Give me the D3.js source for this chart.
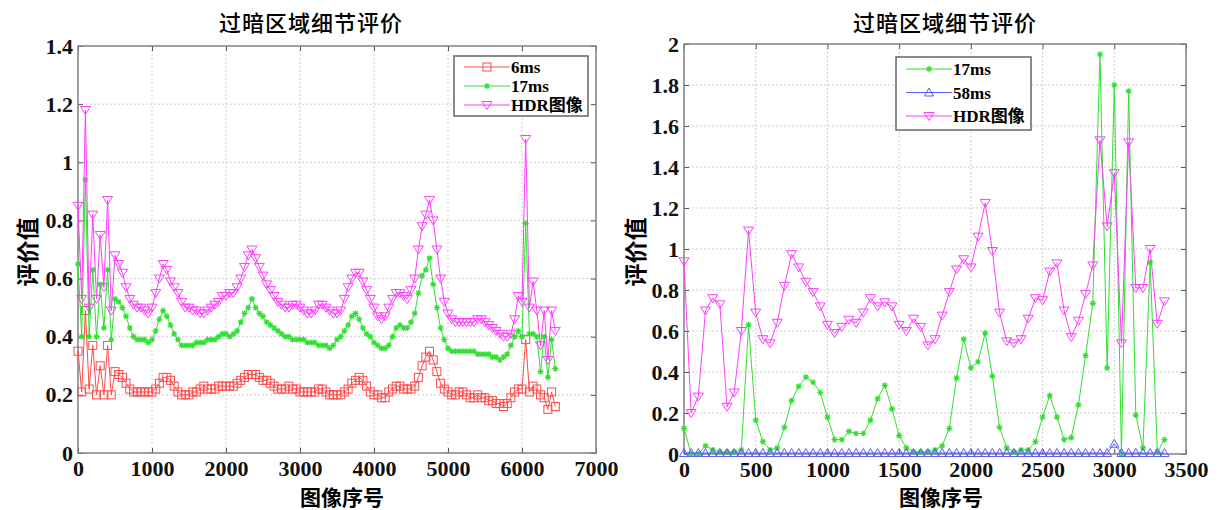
<!DOCTYPE html>
<html lang="zh">
<head>
<meta charset="utf-8"/>
<title>过暗区域细节评价</title>
<script src="https://d3js.org/d3.v7.min.js"></script>
<style>
	body { margin: 0; background: #fff; }
</style>
</head>
<body>
<script>
// ---- data ----
var titleText = "过暗区域细节评价";
var xLabel = "图像序号";
var yLabel = "评价值";

// left panel: one sample every 50 images, from 0
var leftStep = 50;
var left6ms = [
	0.35,0.21,0.49,0.22,0.37,0.20,0.30,0.20,0.37,0.20,
	0.28,0.27,0.26,0.24,0.22,0.21,0.21,0.21,0.21,0.21,
	0.21,0.22,0.24,0.26,0.26,0.25,0.23,0.21,0.20,0.20,
	0.20,0.21,0.21,0.22,0.23,0.22,0.22,0.22,0.23,0.23,
	0.23,0.23,0.23,0.24,0.25,0.26,0.27,0.27,0.27,0.26,
	0.25,0.25,0.24,0.23,0.22,0.22,0.22,0.23,0.22,0.22,
	0.21,0.21,0.21,0.21,0.21,0.22,0.22,0.21,0.20,0.20,
	0.20,0.20,0.21,0.22,0.24,0.25,0.26,0.25,0.23,0.21,
	0.20,0.20,0.19,0.19,0.21,0.22,0.23,0.23,0.22,0.22,
	0.22,0.23,0.26,0.30,0.33,0.35,0.32,0.28,0.24,0.22,
	0.21,0.20,0.20,0.21,0.21,0.20,0.19,0.19,0.20,0.19,
	0.19,0.18,0.18,0.17,0.17,0.16,0.17,0.19,0.21,0.22,
	0.22,0.39,0.21,0.23,0.22,0.20,0.19,0.15,0.21,0.16
];
var left17ms = [
	0.65,0.40,0.94,0.40,0.63,0.40,0.58,0.43,0.63,0.39,
	0.53,0.52,0.50,0.47,0.43,0.40,0.39,0.39,0.39,0.38,
	0.39,0.42,0.46,0.49,0.47,0.44,0.41,0.39,0.37,0.37,
	0.37,0.37,0.38,0.38,0.38,0.39,0.39,0.39,0.40,0.41,
	0.41,0.40,0.41,0.42,0.45,0.48,0.50,0.53,0.50,0.48,
	0.47,0.45,0.44,0.43,0.42,0.41,0.40,0.40,0.39,0.39,
	0.39,0.39,0.38,0.38,0.38,0.37,0.37,0.37,0.36,0.37,
	0.39,0.40,0.42,0.44,0.47,0.48,0.46,0.43,0.41,0.40,
	0.38,0.37,0.36,0.36,0.37,0.40,0.43,0.44,0.43,0.43,
	0.45,0.48,0.55,0.61,0.63,0.67,0.58,0.50,0.43,0.39,
	0.36,0.35,0.35,0.35,0.35,0.35,0.35,0.35,0.34,0.34,
	0.34,0.34,0.33,0.33,0.32,0.33,0.34,0.37,0.40,0.42,
	0.40,0.79,0.41,0.41,0.40,0.28,0.40,0.26,0.39,0.29
];
var leftHDR = [
	0.85,0.53,1.18,0.50,0.82,0.53,0.75,0.57,0.87,0.49,
	0.68,0.65,0.62,0.57,0.53,0.51,0.50,0.50,0.49,0.48,
	0.50,0.55,0.60,0.65,0.63,0.59,0.57,0.55,0.52,0.50,
	0.50,0.49,0.49,0.48,0.48,0.49,0.50,0.51,0.52,0.54,
	0.54,0.55,0.55,0.57,0.60,0.64,0.68,0.70,0.67,0.64,
	0.61,0.58,0.56,0.54,0.52,0.51,0.50,0.50,0.51,0.51,
	0.50,0.49,0.48,0.48,0.49,0.51,0.51,0.50,0.49,0.48,
	0.48,0.49,0.53,0.57,0.60,0.62,0.62,0.59,0.56,0.53,
	0.50,0.47,0.46,0.47,0.50,0.53,0.55,0.55,0.54,0.53,
	0.56,0.60,0.70,0.78,0.82,0.87,0.80,0.70,0.60,0.52,
	0.48,0.46,0.45,0.45,0.45,0.45,0.45,0.45,0.46,0.46,
	0.45,0.44,0.43,0.42,0.41,0.40,0.40,0.41,0.46,0.54,
	0.52,1.08,0.50,0.59,0.49,0.37,0.49,0.32,0.49,0.42
];

// right panel: one sample every 50 images, from 0
var rightStep = 50;
var right17ms = [
	0.125,0.00,0.00,0.04,0.02,0.01,0.01,0.01,0.02,0.63,
	0.165,0.06,0.02,0.03,0.13,0.26,0.33,0.375,0.35,0.30,
	0.18,0.07,0.07,0.11,0.10,0.10,0.165,0.27,0.335,0.22,
	0.09,0.03,0.01,0.01,0.01,0.02,0.04,0.125,0.37,0.56,
	0.42,0.45,0.59,0.38,0.13,0.03,0.01,0.02,0.02,0.06,
	0.18,0.285,0.18,0.07,0.08,0.24,0.48,0.735,1.95,0.42,
	1.80,0.00,1.77,0.19,0.03,0.935,0.01,0.07
];
var right58ms = [
	0.005,0.005,0.005,0.005,0.005,0.005,0.005,0.005,0.005,0.005,
	0.005,0.005,0.005,0.005,0.005,0.005,0.005,0.005,0.005,0.005,
	0.005,0.005,0.005,0.005,0.005,0.005,0.005,0.005,0.005,0.005,
	0.005,0.005,0.005,0.005,0.005,0.005,0.005,0.005,0.005,0.005,
	0.005,0.005,0.005,0.005,0.005,0.005,0.005,0.005,0.005,0.005,
	0.005,0.005,0.005,0.005,0.005,0.005,0.005,0.005,0.005,0.005,
	0.05,0.005,0.005,0.005,0.005,0.005,0.005,0.005
];
var rightHDR = [
	0.94,0.20,0.28,0.70,0.76,0.73,0.23,0.30,0.60,1.09,
	0.69,0.56,0.54,0.64,0.82,0.975,0.91,0.84,0.79,0.72,
	0.63,0.59,0.62,0.655,0.64,0.69,0.76,0.72,0.74,0.72,
	0.63,0.60,0.66,0.62,0.53,0.56,0.675,0.79,0.90,0.95,
	0.91,1.06,1.225,0.99,0.69,0.55,0.54,0.56,0.66,0.76,
	0.75,0.89,0.93,0.70,0.57,0.65,0.78,0.92,1.53,1.11,
	1.37,0.54,1.52,0.81,0.81,1.00,0.635,0.745
];

var leftTicksX = [0, 1000, 2000, 3000, 4000, 5000, 6000, 7000];
var leftTicksY = [0, 0.2, 0.4, 0.6, 0.8, 1, 1.2, 1.4];
var rightTicksX = [0, 500, 1000, 1500, 2000, 2500, 3000, 3500];
var rightTicksY = [0, 0.2, 0.4, 0.6, 0.8, 1, 1.2, 1.4, 1.6, 1.8, 2];

// ---- styles ----
var red = "#ff4a4a", green = "#30e030", magenta = "#ff3cff", blue = "#5a5aff";
var serif = "'Liberation Serif', 'Times New Roman', serif";
var cjk = "'Noto Sans CJK SC', sans-serif";

var svg = d3.select("body")
			.append("svg")
			.attr("width", 1218)
			.attr("height", 510);

// marker shapes drawn around (0,0)
function drawMarker(sel, type, color) {
	if (type == "square") {
		sel.append("rect").attr("x", -4).attr("y", -4).attr("width", 8).attr("height", 8)
			.attr("fill", "none").attr("stroke", color).attr("stroke-width", 1);
	} else if (type == "star") {
		sel.append("path").attr("d", "M-3,0H3M0,-3V3M-2.2,-2.2L2.2,2.2M-2.2,2.2L2.2,-2.2")
			.attr("fill", "none").attr("stroke", color).attr("stroke-width", 1.2);
	} else if (type == "down") {
		sel.append("path").attr("d", "M-5,-3.5L5,-3.5L0,4.5Z")
			.attr("fill", "none").attr("stroke", color).attr("stroke-width", 1);
	} else if (type == "up") {
		sel.append("path").attr("d", "M-4.5,3.5L4.5,3.5L0,-4.5Z")
			.attr("fill", "none").attr("stroke", color).attr("stroke-width", 1);
	}
}

function fmt(d) { return String(+d.toFixed(1)); }

function drawPanel(p) {
	var g = svg.append("g");
	var x = d3.scaleLinear().domain([p.xTicks[0], p.xTicks[p.xTicks.length - 1]]).range([p.left, p.right]);
	var y = d3.scaleLinear().domain([p.yTicks[0], p.yTicks[p.yTicks.length - 1]]).range([p.bottom, p.top]);

	// dotted grid
	g.selectAll(".gx").data(p.xTicks.slice(1, -1)).enter().append("line")
		.attr("x1", function(d) { return x(d); }).attr("x2", function(d) { return x(d); })
		.attr("y1", p.top).attr("y2", p.bottom)
		.attr("stroke", "#cfcfcf").attr("stroke-dasharray", "2,2");
	g.selectAll(".gy").data(p.yTicks.slice(1, -1)).enter().append("line")
		.attr("y1", function(d) { return y(d); }).attr("y2", function(d) { return y(d); })
		.attr("x1", p.left).attr("x2", p.right)
		.attr("stroke", "#cfcfcf").attr("stroke-dasharray", "2,2");

	// axes with inward ticks on all four sides
	var bottom = g.append("g").attr("transform", "translate(0," + p.bottom + ")")
		.call(d3.axisBottom(x).tickValues(p.xTicks).tickFormat(d3.format("d")).tickSizeInner(-5).tickSizeOuter(0).tickPadding(7));
	var left = g.append("g").attr("transform", "translate(" + p.left + ",0)")
		.call(d3.axisLeft(y).tickValues(p.yTicks).tickFormat(fmt).tickSizeInner(-5).tickSizeOuter(0).tickPadding(5));
	var top = g.append("g").attr("transform", "translate(0," + p.top + ")")
		.call(d3.axisTop(x).tickValues(p.xTicks).tickFormat("").tickSizeInner(-5).tickSizeOuter(0));
	var right = g.append("g").attr("transform", "translate(" + p.right + ",0)")
		.call(d3.axisRight(y).tickValues(p.yTicks).tickFormat("").tickSizeInner(-5).tickSizeOuter(0));
	[bottom, left, top, right].forEach(function(a) {
		a.select(".domain").remove();
		a.selectAll("line").attr("stroke", "#555");
		a.selectAll("text").attr("font-family", serif).attr("font-size", "22px")
			.attr("font-weight", "bold").attr("fill", "#111");
	});

	// box
	g.append("rect").attr("x", p.left).attr("y", p.top)
		.attr("width", p.right - p.left).attr("height", p.bottom - p.top)
		.attr("fill", "none").attr("stroke", "#808080").attr("stroke-width", 1.5);

	// series
	p.series.forEach(function(s) {
		var pts = s.values.map(function(v, i) { return [i * p.step, v]; });
		var line = d3.line().x(function(d) { return x(d[0]); }).y(function(d) { return y(d[1]); });
		g.append("path").datum(pts).attr("d", line)
			.attr("fill", "none").attr("stroke", s.color).attr("stroke-width", 1);
		g.selectAll(null).data(pts).enter().append("g")
			.attr("transform", function(d) { return "translate(" + x(d[0]) + "," + y(d[1]) + ")"; })
			.each(function() { drawMarker(d3.select(this), s.marker, s.color); });
	});

	// legend
	var lg = g.append("g");
	lg.append("rect").attr("x", p.legend.x).attr("y", p.legend.y)
		.attr("width", p.legend.w).attr("height", p.legend.h)
		.attr("fill", "#fff").attr("stroke", "#666").attr("stroke-width", 1.5);
	p.series.forEach(function(s, i) {
		var cy = p.legend.y + p.legend.rowTop + i * p.legend.rowGap;
		var x0 = p.legend.x + 10, x1 = x0 + 46;
		lg.append("line").attr("x1", x0).attr("x2", x1).attr("y1", cy).attr("y2", cy)
			.attr("stroke", s.color).attr("stroke-width", 1);
		var m = lg.append("g").attr("transform", "translate(" + ((x0 + x1) / 2) + "," + cy + ")");
		drawMarker(m, s.marker, s.color);
		lg.append("text").attr("x", x1 + 1).attr("y", cy + 6)
			.attr("font-family", serif + ", " + cjk).attr("font-weight", "bold").attr("font-size", "17px")
			.text(s.name);
	});

	// title and axis labels
	g.append("text").attr("x", p.titleX).attr("y", 31).attr("text-anchor", "middle")
		.attr("font-family", cjk).attr("font-size", "22px").attr("font-weight", 500)
		.attr("letter-spacing", "1px").text(titleText);
	g.append("text").attr("x", p.xLabelX).attr("y", 505).attr("text-anchor", "middle")
		.attr("font-family", cjk).attr("font-size", "21px").attr("font-weight", "bold").text(xLabel);
	g.append("text").attr("transform", "translate(" + p.yLabelX + ",252) rotate(-90)")
		.attr("text-anchor", "middle").attr("font-family", cjk).attr("font-size", "23px")
		.attr("font-weight", "bold").text(yLabel);
}

drawPanel({
	left: 78, right: 596, top: 46, bottom: 453,
	xTicks: leftTicksX, yTicks: leftTicksY, step: leftStep,
	titleX: 311, xLabelX: 342, yLabelX: 36,
	legend: { x: 454, y: 56, w: 134, h: 60, rowTop: 11, rowGap: 19 },
	series: [
		{ name: "6ms", values: left6ms, color: red, marker: "square" },
		{ name: "17ms", values: left17ms, color: green, marker: "star" },
		{ name: "HDR图像", values: leftHDR, color: magenta, marker: "down" }
	]
});

drawPanel({
	left: 684, right: 1186, top: 44, bottom: 454,
	xTicks: rightTicksX, yTicks: rightTicksY, step: rightStep,
	titleX: 945, xLabelX: 941, yLabelX: 644,
	legend: { x: 896, y: 57, w: 135, h: 73, rowTop: 12, rowGap: 23.5 },
	series: [
		{ name: "17ms", values: right17ms, color: green, marker: "star" },
		{ name: "58ms", values: right58ms, color: blue, marker: "up" },
		{ name: "HDR图像", values: rightHDR, color: magenta, marker: "down" }
	]
});
</script>
</body>
</html>
